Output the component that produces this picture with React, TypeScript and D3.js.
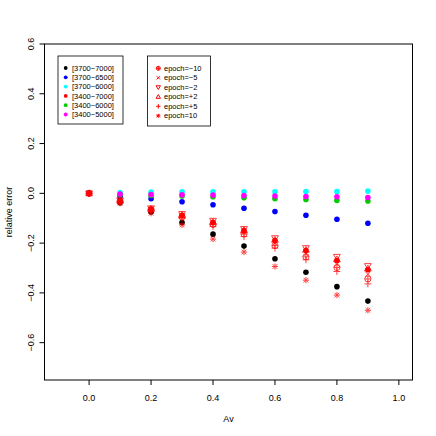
import React from 'react';
import { scaleLinear } from 'd3';

const av = [0, 0.1, 0.2, 0.3, 0.4, 0.5, 0.6, 0.7, 0.8, 0.9];
const xTicks = [0, 0.2, 0.4, 0.6, 0.8, 1.0];
const yTicks = [-0.6, -0.4, -0.2, 0, 0.2, 0.4, 0.6];

const groupNames = ['[3700\u22127000]', '[3700\u22126500]', '[3700\u22126000]', '[3400\u22127000]', '[3400\u22126000]', '[3400\u22125000]'];
const groupColors = ['#000000', '#0000FF', '#00FFFF', '#FF0000', '#00CD00', '#FF00FF'];
const g37007000 = [0, -0.038, -0.075, -0.117, -0.164, -0.212, -0.263, -0.317, -0.375, -0.433];
const g37006500 = [0, -0.013, -0.022, -0.034, -0.046, -0.06, -0.073, -0.088, -0.104, -0.12];
const g37006000 = [0, 0.003, 0.005, 0.006, 0.006, 0.006, 0.006, 0.007, 0.007, 0.009];
const g34007000 = [0, -0.03, -0.064, -0.088, -0.117, -0.15, -0.19, -0.23, -0.27, -0.307];
const g34006000 = [0, -0.006, -0.009, -0.011, -0.014, -0.018, -0.022, -0.025, -0.029, -0.031];
const g34005000 = [0, -0.003, -0.005, -0.006, -0.007, -0.009, -0.011, -0.013, -0.014, -0.017];
const groupValues = [g37007000, g37006500, g37006000, g34007000, g34006000, g34005000];

const epochNames = ['epoch=\u221210', 'epoch=\u22125', 'epoch=\u22122', 'epoch=+2', 'epoch=+5', 'epoch=10'];
const epochShapes = ['circleplus', 'cross', 'down', 'up', 'plus', 'star'];
const eM10 = [0, -0.032, -0.065, -0.095, -0.125, -0.163, -0.21, -0.255, -0.298, -0.344];
const eM5 = [0, -0.031, -0.064, -0.092, -0.12, -0.157, -0.2, -0.243, -0.285, -0.325];
const eM2 = [0, -0.028, -0.06, -0.083, -0.11, -0.143, -0.18, -0.22, -0.255, -0.292];
const eP2 = [0, -0.03, -0.063, -0.087, -0.115, -0.148, -0.187, -0.227, -0.265, -0.302];
const eP5 = [0, -0.033, -0.067, -0.1, -0.133, -0.174, -0.22, -0.267, -0.314, -0.364];
const eP10 = [0, -0.04, -0.08, -0.127, -0.184, -0.236, -0.294, -0.349, -0.409, -0.47];
const epochValues = [eM10, eM5, eM2, eP2, eP5, eP10];

const left = 44.5, right = 412.5, top = 44, bottom = 380;
const font = 'Liberation Sans, Arial, Helvetica, sans-serif';

const xScale = scaleLinear().domain([-0.144, 1.044]).range([left, right]);
const yScale = scaleLinear().domain([-0.75, 0.6]).range([bottom, top]);

const Symbol = ({ shape, x, y, s, color }: { shape: string; x: number; y: number; s: number; color: string }) => {
  const sw = 1;
  if (shape === 'circleplus') {
    return (
      <g stroke={color} strokeWidth={sw} fill="none">
        <circle cx={x} cy={y} r={s} />
        <line x1={x - s} x2={x + s} y1={y} y2={y} />
        <line x1={x} x2={x} y1={y - s} y2={y + s} />
      </g>
    );
  }
  if (shape === 'cross') {
    const d = s * 0.8;
    return (
      <g stroke={color} strokeWidth={sw}>
        <line x1={x - d} x2={x + d} y1={y - d} y2={y + d} />
        <line x1={x - d} x2={x + d} y1={y + d} y2={y - d} />
      </g>
    );
  }
  if (shape === 'plus') {
    return (
      <g stroke={color} strokeWidth={sw}>
        <line x1={x - s * 1.1} x2={x + s * 1.1} y1={y} y2={y} />
        <line x1={x} x2={x} y1={y - s * 1.1} y2={y + s * 1.1} />
      </g>
    );
  }
  if (shape === 'star') {
    const d = s * 0.75;
    return (
      <g stroke={color} strokeWidth={sw}>
        <line x1={x - s} x2={x + s} y1={y} y2={y} />
        <line x1={x} x2={x} y1={y - s} y2={y + s} />
        <line x1={x - d} x2={x + d} y1={y - d} y2={y + d} />
        <line x1={x - d} x2={x + d} y1={y + d} y2={y - d} />
      </g>
    );
  }
  const h = s * 1.1;
  const pts =
    shape === 'up'
      ? `${x},${y - h} ${x - h},${y + h * 0.7} ${x + h},${y + h * 0.7}`
      : `${x},${y + h} ${x - h},${y - h * 0.7} ${x + h},${y - h * 0.7}`;
  return <polygon points={pts} fill="none" stroke={color} strokeWidth={sw} />;
};

export default function App() {
  return (
    <svg width={436} height={436} style={{ position: 'absolute', left: 0, top: 0, background: '#fff' }}>
      <rect x={0} y={0} width={436} height={436} fill="#fff" />
      {/* points: wavelength ranges */}
      {groupValues.map((vals, gi) => (
        <g key={gi} fill={groupColors[gi]}>
          {vals.map((v, i) => (
            <circle key={i} cx={xScale(av[i])} cy={yScale(v)} r={2.8} />
          ))}
        </g>
      ))}
      {/* points: epochs */}
      {epochValues.map((vals, ei) => (
        <g key={ei} opacity={0.75}>
          {vals.map((v, i) => (
            <Symbol key={i} shape={epochShapes[ei]} x={xScale(av[i])} y={yScale(v)} s={3.1} color="#FF0000" />
          ))}
        </g>
      ))}

      {/* box */}
      <rect x={left} y={top} width={right - left} height={bottom - top} fill="none" stroke="#000" strokeWidth={1} />

      {/* x axis */}
      <g fontFamily={font} fontSize={9} fill="#000">
        {xTicks.map((t) => (
          <g key={t} transform={`translate(${xScale(t)},0)`}>
            <line y1={bottom} y2={bottom + 5} stroke="#000" />
            <text y={400.5} textAnchor="middle">{t.toFixed(1)}</text>
          </g>
        ))}
        <text x={(left + right) / 2} y={421.5} textAnchor="middle">Av</text>
      </g>

      {/* y axis */}
      <g fontFamily={font} fontSize={9} fill="#000">
        {yTicks.map((t) => (
          <g key={t} transform={`translate(0,${yScale(t)})`}>
            <line x1={left - 5} x2={left} stroke="#000" />
            <text transform="translate(33.5,0) rotate(-90)" textAnchor="middle">
              {(t < 0 ? '\u2212' : '') + Math.abs(t).toFixed(1)}
            </text>
          </g>
        ))}
        <text transform={`translate(12,${(top + bottom) / 2}) rotate(-90)`} textAnchor="middle">relative error</text>
      </g>

      {/* legend 1 */}
      <g fontFamily={font} fontSize={7.5} fill="#000">
        <rect x={58} y={56} width={65} height={68} fill="#fff" stroke="#000" strokeWidth={0.8} />
        {groupNames.map((n, i) => (
          <g key={n}>
            <circle cx={65.7} cy={68 + i * 9.3} r={1.9} fill={groupColors[i]} />
            <text x={72} y={68 + i * 9.3 + 2.6}>{n}</text>
          </g>
        ))}
      </g>

      {/* legend 2 */}
      <g fontFamily={font} fontSize={7.5} fill="#000">
        <rect x={147.5} y={56} width={63} height={70} fill="#fff" stroke="#000" strokeWidth={0.8} />
        {epochNames.map((n, i) => (
          <g key={n}>
            <Symbol shape={epochShapes[i]} x={158.3} y={68.3 + i * 9.5} s={2} color="#FF0000" />
            <text x={164} y={68.3 + i * 9.5 + 2.6}>{n}</text>
          </g>
        ))}
      </g>
    </svg>
  );
}
